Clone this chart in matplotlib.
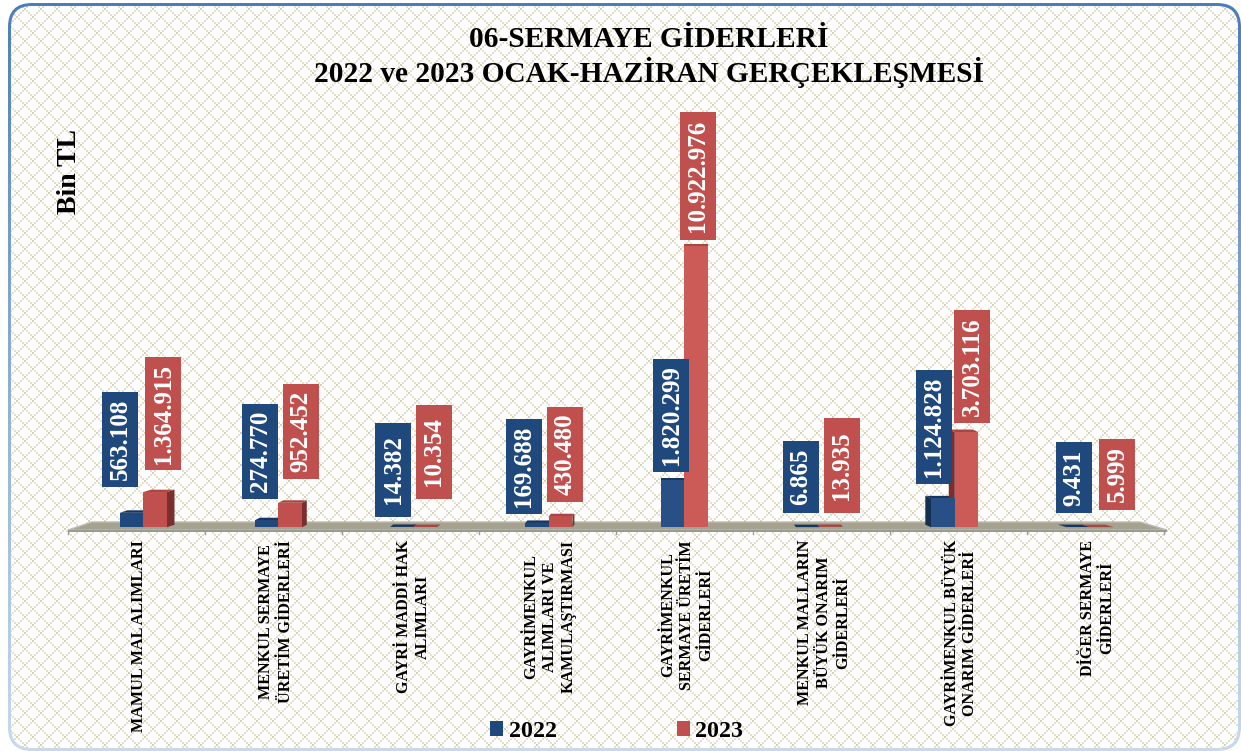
import numpy as np
import matplotlib
matplotlib.use("Agg")
import matplotlib.pyplot as plt
from matplotlib.patches import FancyBboxPatch, Polygon, Rectangle
from matplotlib.colors import to_rgb

# Chart data (Bin TL)
categories = [
    "MAMUL MAL ALIMLARI",
    "MENKUL SERMAYE\nÜRETİM GİDERLERİ",
    "GAYRİ MADDİ HAK\nALIMLARI",
    "GAYRİMENKUL\nALIMLARI VE\nKAMULAŞTIRMASI",
    "GAYRİMENKUL\nSERMAYE ÜRETİM\nGİDERLERİ",
    "MENKUL MALLARIN\nBÜYÜK ONARIM\nGİDERLERİ",
    "GAYRİMENKUL BÜYÜK\nONARIM GİDERLERİ",
    "DİĞER SERMAYE\nGİDERLERİ",
]
values_2022 = [563108, 274770, 14382, 169688, 1820299, 6865, 1124828, 9431]
values_2023 = [1364915, 952452, 10354, 430480, 10922976, 13935, 3703116, 5999]

# Label box layout in image pixels: left edge, top, bottom
boxes_2022 = [(102, 392, 487), (242, 404, 499), (375, 423, 517), (506, 419, 514),
              (653, 359, 472), (783, 441, 513), (916, 370, 484), (1056, 442, 513)]
boxes_2023 = [(145, 357, 470), (283, 384, 479), (416, 405, 499), (547, 407, 502),
              (680, 112, 240), (824, 418, 513), (954, 310, 423), (1099, 439, 510)]
depths = [8, 5, 3, 2, 0, -2, -6, -8]

W, H = 1241, 751
BLUE = "#1f497d"
RED = "#c0504d"
FONT = "Liberation Serif"

fig = plt.figure(figsize=(W / 100, H / 100), dpi=100, facecolor="white")


def pixel_axes(zorder):
    a = fig.add_axes([0, 0, 1, 1], zorder=zorder)
    a.set_xlim(0, W)
    a.set_ylim(H, 0)
    a.axis("off")
    a.patch.set_alpha(0)
    return a


bg = pixel_axes(0)

# frame gradient, clipped to the rounded outline
top_c, mid_c, low_c = [np.array(to_rgb(c)) for c in ("#4a7ebb", "#7fa5d1", "#c8daee")]
ys = np.arange(H)
grad = np.stack([np.interp(ys, [0, 300, H], [top_c[k], mid_c[k], low_c[k]]) for k in range(3)], axis=1)
grad = grad[:, None, :]
frame_im = bg.imshow(grad, extent=(0, W, H, 0), aspect="auto", zorder=1)
frame = FancyBboxPatch((8, 3), 1233, 748, boxstyle="round,pad=0,rounding_size=24",
                       fc="none", ec="none")
bg.add_patch(frame)
frame_im.set_clip_path(frame)

# trellis pattern, blocky 2px staircase
yy, xx = np.mgrid[0:H, 0:W]
bx, by = xx // 2, yy // 2
d1 = (bx + by) % 8 == 0
d2 = (bx - by) % 8 == 0
tile = np.ones((H, W, 3))
tile[d1 | d2] = to_rgb("#e6e1cd")
tile[d1 & d2] = to_rgb("#d8d1b4")
pat_im = bg.imshow(tile, extent=(0, W, H, 0), aspect="auto", interpolation="nearest", zorder=2)
inner = FancyBboxPatch((11, 6), 1227, 742, boxstyle="round,pad=0,rounding_size=21",
                       fc="none", ec="none")
bg.add_patch(inner)
pat_im.set_clip_path(inner)
bg.set_xlim(0, W)
bg.set_ylim(H, 0)

# floor of the 3d chart
bg.add_patch(Polygon([(68, 530), (92, 522), (1140, 522), (1167, 530)], fc="#a5a28f", ec="#bdbcb0", lw=1, zorder=3))
bg.add_patch(Rectangle((68, 530), 1099, 2, fc="#9a9a94", ec="none", zorder=3))
for i in range(9):
    bg.plot([68 + 137 * i] * 2, [531, 534], color="#9a9a9a", lw=1, zorder=3)

# bars: scale taken from the tallest column
ax = fig.add_axes([0, 0, 1, 1], zorder=1)
ax.patch.set_alpha(0)
ax.axis("off")
base_y, x0, step = 527.3, 143.0, 135.3
per_px = max(values_2023) / 281.0
ax.set_xlim(-x0 / step, (W - x0) / step)
ax.set_ylim((base_y - H) * per_px, base_y * per_px)

x = np.arange(len(categories))
bar_w = 23.5 / step
dy = 2.5 * per_px


def draw_bar(left, val, d, side, topc):
    dx = d / step
    right = left + bar_w
    edge = right if d >= 0 else left
    ax.add_patch(Polygon([(edge, 0), (edge + dx, dy), (edge + dx, val + dy), (edge, val)],
                         fc=side, ec="none", zorder=2))
    ax.add_patch(Polygon([(left, val), (right, val), (right + dx, val + dy), (left + dx, val + dy)],
                         fc=topc, ec="none", zorder=2))


for i in x:
    draw_bar(i - bar_w, values_2022[i], depths[i], "#14304f", "#17365e")
    draw_bar(i, values_2023[i], depths[i], "#7a2e2e", "#a84643")
blue_cols = ["#1f497d"] * 8
red_cols = ["#c0504d"] * 8
blue_cols[4] = blue_cols[6] = "#285086"
red_cols[4] = red_cols[6] = "#cc5b58"
b1 = ax.bar(x - bar_w / 2, values_2022, bar_w, color=blue_cols, zorder=3, label="2022")
b2 = ax.bar(x + bar_w / 2, values_2023, bar_w, color=red_cols, zorder=4, label="2023")

leg = ax.legend(handles=[b1, b2], ncol=2, frameon=False, loc="center left",
                bbox_to_anchor=(490 / W, 1 - 731.5 / H), bbox_transform=fig.transFigure,
                prop={"family": FONT, "weight": "bold", "size": 17.3},
                handlelength=0.55, handleheight=0.55, handletextpad=0.22,
                columnspacing=5.0, borderpad=0, borderaxespad=0)

# labels on top of everything
top = pixel_axes(2)
for vals, boxes, col in [(values_2022, boxes_2022, BLUE), (values_2023, boxes_2023, RED)]:
    for v, (left, y1, y2) in zip(vals, boxes):
        top.add_patch(Rectangle((left, y1), 36, y2 - y1, fc=col, ec="none"))
        top.text(left + 18, (y1 + y2) / 2, f"{v:,}".replace(",", "."), rotation=90,
                 color="white", family=FONT, weight="bold", size=18,
                 ha="center", va="center", rotation_mode="anchor")

for i, cat in enumerate(categories):
    top.text(139 + 137 * i, 540, cat, rotation=90, ha="center", va="top", ma="center",
             family=FONT, weight="bold", size=11.6, linespacing=1.25, color="black")

top.text(649, 47, "06-SERMAYE GİDERLERİ", ha="center", va="baseline",
         family=FONT, weight="bold", size=21.2, color="black")
top.text(649, 82, "2022 ve 2023 OCAK-HAZİRAN GERÇEKLEŞMESİ", ha="center", va="baseline",
         family=FONT, weight="bold", size=21.2, color="black")
top.text(69, 172, "Bin TL", rotation=90, ha="center", va="center",
         family=FONT, weight="bold", size=20, color="black")

fig.savefig("out.png", dpi=100)
